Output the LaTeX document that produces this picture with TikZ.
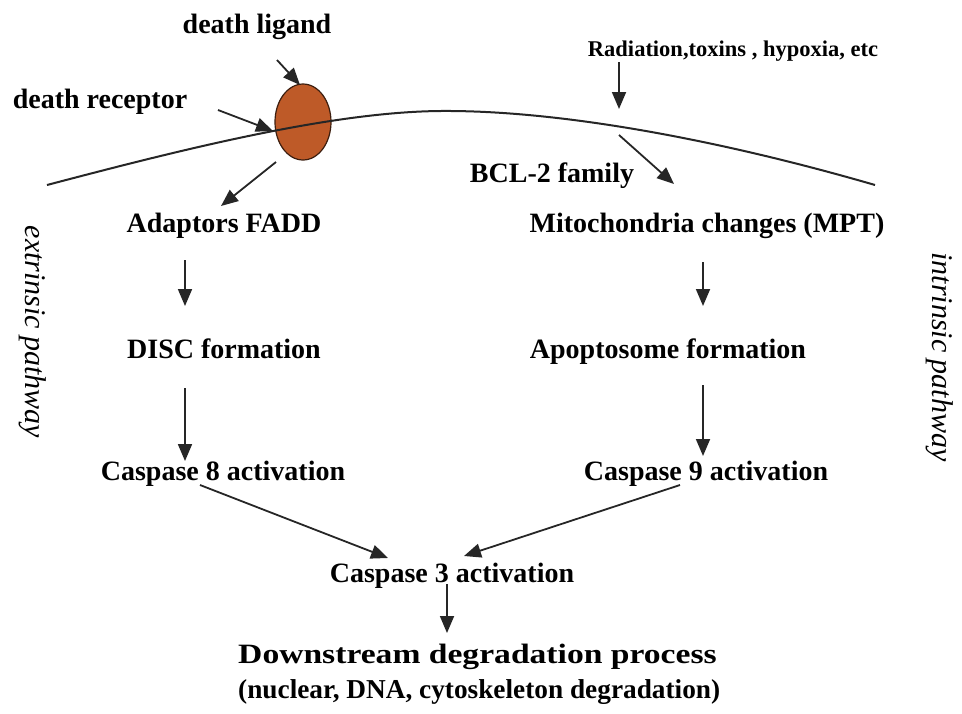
\documentclass[tikz,border=0pt]{standalone}
\usepackage{fontspec}
\setmainfont{Liberation Serif}
\usetikzlibrary{arrows.meta,calc,shapes.geometric}
\definecolor{cellbrown}{RGB}{190,90,40}
\definecolor{celledge}{RGB}{60,30,15}
\begin{document}
\begin{tikzpicture}[x=1pt,y=-1pt,
  lbl/.style={font=\fontsize{28}{30}\selectfont\bfseries, inner sep=0pt, anchor=base},
  wide/.style={font=\fontsize{28}{30}\selectfont\bfseries, inner sep=0pt, anchor=base west, xscale=1.2, transform shape},
  small/.style={font=\fontsize{22.5}{24}\selectfont\bfseries, inner sep=0pt, anchor=base},
  path label/.style={font=\fontsize{30}{32}\selectfont\itshape, inner sep=0pt, rotate=-90},
  arr/.style={-{Triangle[width=14pt,length=17pt]}, line width=1.8pt, black!85},
  membrane/.style={line width=2pt, black!85},
  receptor/.style={draw=celledge, line width=1.2pt, fill=cellbrown}]
\useasboundingbox (0,0) rectangle (962,713);

% death receptor in the membrane
\node[receptor, ellipse, minimum width=56pt, minimum height=76pt, inner sep=0pt] (cell) at (303,122) {};
\draw[membrane] (47,185) .. controls (180,150) and (330,112) .. (440,111)
                        .. controls (560,110) and (720,140) .. (875,185);

% labels
\node[lbl] (lig) at (257,33) {death ligand};
\node[lbl] (rec) at (100,108) {death receptor};
\node[small] (rad) at (733,56) {Radiation,toxins , hypoxia, etc};
\node[lbl] (bcl) at (552,182) {BCL-2 family};

\node[lbl] (fadd) at (224,232) {Adaptors FADD};
\node[lbl] (disc) at (224,358) {DISC formation};
\node[lbl] (c8)   at (223,480) {Caspase 8 activation};

\node[lbl] (mpt)  at (707,232) {Mitochondria changes (MPT)};
\node[lbl] (apo)  at (668,358) {Apoptosome formation};
\node[lbl] (c9)   at (706,480) {Caspase 9 activation};

\node[lbl] (c3)   at (452,582) {Caspase 3 activation};
\node[wide] (down) at (238,663) {Downstream degradation process};
\node[lbl, anchor=base west, font=\fontsize{27.3}{29}\selectfont\bfseries] (nuc) at (238,698)
  {(nuclear, DNA, cytoskeleton degradation)};

\node[path label] (ext) at (33,332) {extrinsic pathway};
\node[path label] (int) at (940,357) {intrinsic pathway};

% arrow end points
\coordinate (ligS) at (277,60);   \coordinate (ligE) at (300,85);
\coordinate (recS) at (218,110);  \coordinate (recE) at (273,131);
\coordinate (celS) at (276,162);  \coordinate (celE) at (221,206);
\coordinate (radS) at (619,62);   \coordinate (radE) at (619,109);
\coordinate (bclS) at (619,135);  \coordinate (bclE) at (674,184);
\coordinate (e1S) at (185,260);   \coordinate (e1E) at (185,306);
\coordinate (e2S) at (185,388);   \coordinate (e2E) at (185,461);
\coordinate (i1S) at (703,262);   \coordinate (i1E) at (703,306);
\coordinate (i2S) at (703,385);   \coordinate (i2E) at (703,456);
\coordinate (c8S) at (200,485);   \coordinate (c8E) at (388,558);
\coordinate (c9S) at (680,485);   \coordinate (c9E) at (464,556);
\coordinate (c3S) at (447,584);   \coordinate (c3E) at (447,633);

\draw[arr] (ligS) -- (ligE);
\draw[arr] (recS) -- (recE);
\draw[arr] (celS) -- (celE);
\draw[arr] (radS) -- (radE);
\draw[arr] (bclS) -- (bclE);
\draw[arr] (e1S) -- (e1E);
\draw[arr] (e2S) -- (e2E);
\draw[arr] (i1S) -- (i1E);
\draw[arr] (i2S) -- (i2E);
\draw[arr] (c8S) -- (c8E);
\draw[arr] (c9S) -- (c9E);
\draw[arr] (c3S) -- (c3E);
\end{tikzpicture}
\end{document}
